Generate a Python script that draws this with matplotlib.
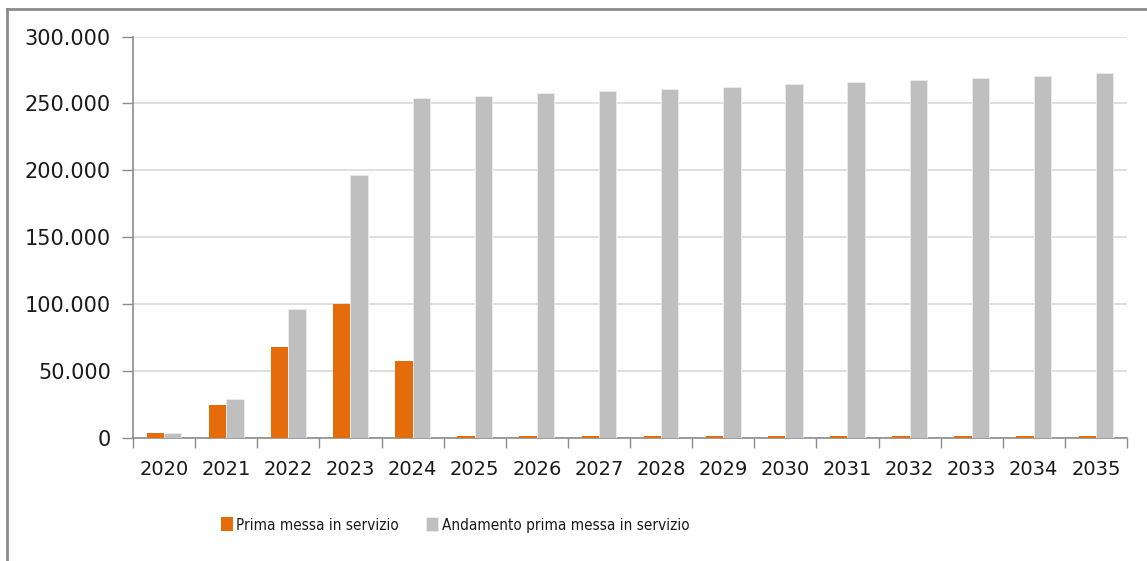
import matplotlib.pyplot as plt
import numpy as np
from matplotlib.lines import Line2D
from matplotlib.ticker import FuncFormatter

anni = ["2020", "2021", "2022", "2023", "2024", "2025", "2026", "2027",
        "2028", "2029", "2030", "2031", "2032", "2033", "2034", "2035"]
prima_messa = [3600, 24100, 67500, 100000, 57400, 1000, 1000, 1000,
               1000, 1000, 1000, 1000, 1000, 1000, 1000, 1000]
andamento = [3600, 28600, 96100, 196400, 254000, 255800, 257500, 259000,
             260600, 262300, 264200, 266000, 267200, 268900, 270700, 272600]

ARANCIO = "#E46C0A"
GRIGIO = "#BFBFBF"

fig = plt.figure(figsize=(11.47, 5.61), dpi=100)
ax = fig.add_axes([133 / 1147, 1 - 437.5 / 561, 994 / 1147, 401 / 561])

x = np.arange(len(anni))
w = 0.28
ax.bar(x - w / 2, prima_messa, w, color=ARANCIO, linewidth=0,
       label="Prima messa in servizio", zorder=3)
ax.bar(x + w / 2, andamento, w, color=GRIGIO, edgecolor="#ececec",
       linewidth=0.6, label="Andamento prima messa in servizio", zorder=3)

ax.set_xlim(-0.5, len(anni) - 0.5)
ax.set_ylim(0, 300000)
ax.set_yticks(np.arange(0, 300001, 50000))
ax.yaxis.set_major_formatter(FuncFormatter(lambda v, p: f"{int(v):,}".replace(",", ".")))
ax.grid(axis="y", color="#d9d9d9", linewidth=1.2, zorder=0)

# x ticks between categories, labels centered
ax.set_xticks(np.arange(-0.5, len(anni), 1))
ax.set_xticklabels([])
ax.set_xticks(x, minor=True)
ax.set_xticklabels(anni, minor=True)
ax.tick_params(axis="x", which="minor", length=0, pad=16)
ax.tick_params(axis="x", which="major", length=7, color="#8c8c8c", width=1)
ax.tick_params(axis="y", length=8, color="#8c8c8c", width=1, pad=8)

for lab in ax.get_xticklabels(minor=True):
    lab.set_fontfamily("DejaVu Sans")
    lab.set_fontsize(14)
    lab.set_color("#1a1a1a")
for lab in ax.get_yticklabels():
    lab.set_fontfamily("DejaVu Sans")
    lab.set_fontsize(15)
    lab.set_color("#1a1a1a")

for s in ["top", "right"]:
    ax.spines[s].set_visible(False)
for s in ["left", "bottom"]:
    ax.spines[s].set_color("#8c8c8c")
    ax.spines[s].set_linewidth(1.2)

fig.legend(loc="center left", bbox_to_anchor=(207 / 1147, 1 - 525 / 561),
           ncol=2, frameon=False, handlelength=0.8, handleheight=1.0,
           handletextpad=0.2, columnspacing=1.8,
           prop={"family": "DejaVu Sans", "stretch": "condensed", "size": 11})
for t in fig.legends[0].get_texts():
    t.set_color("#1a1a1a")

# outer chart border (partly cropped)
fig.add_artist(Line2D([7.5 / 1147, 7.5 / 1147], [0, 1 - 8.5 / 561],
                      transform=fig.transFigure, color="#8c8c8c", linewidth=2))
fig.add_artist(Line2D([7.5 / 1147, 1], [1 - 8.5 / 561, 1 - 8.5 / 561],
                      transform=fig.transFigure, color="#8c8c8c", linewidth=2))

fig.savefig("out.png", dpi=100)
